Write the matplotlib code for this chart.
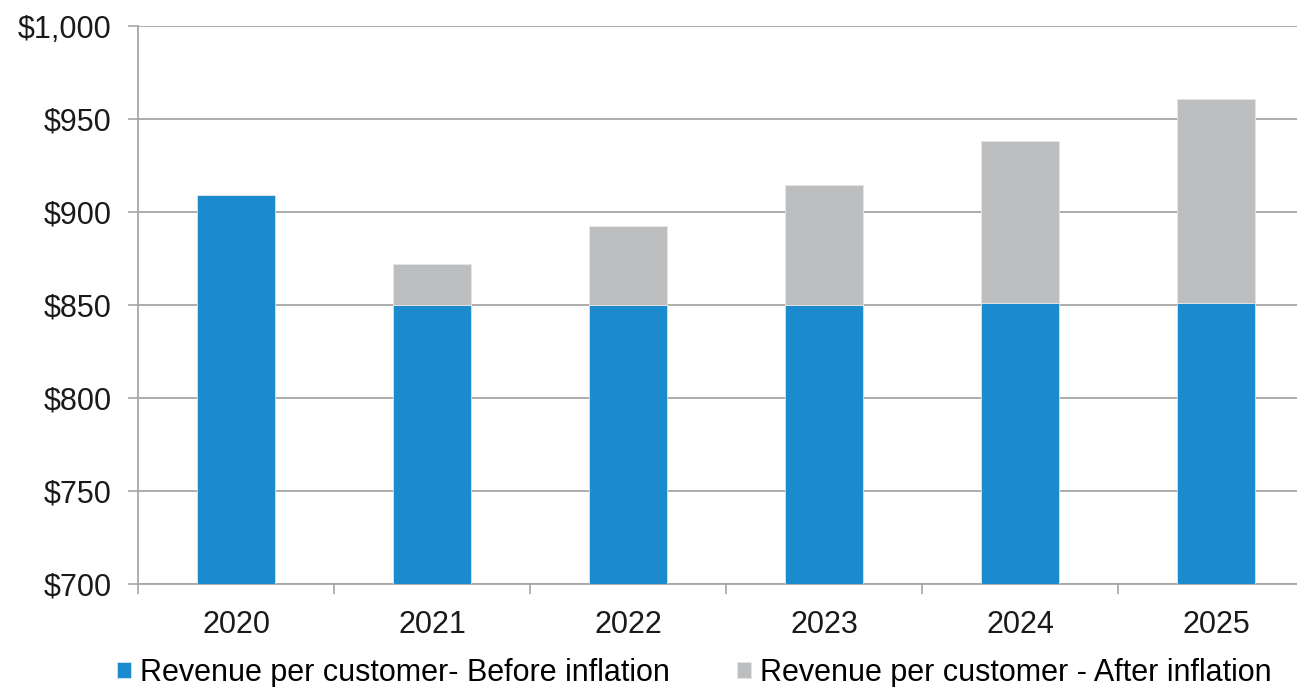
import numpy as np
import matplotlib.pyplot as plt
from matplotlib.ticker import FuncFormatter

plt.rcParams['font.family'] = ['Liberation Sans', 'DejaVu Sans']

years = ['2020', '2021', '2022', '2023', '2024', '2025']
before = [909, 850, 850, 850, 851, 851]        # before inflation
after_total = [909, 872, 892.5, 914.5, 938, 961]  # total after inflation
label_before = 'Revenue per customer- Before inflation'
label_after = 'Revenue per customer - After inflation'

blue = '#1b8bcd'
grey = '#bdbec0'
axcol = '#a6a6a6'
fs = 22

ind = np.arange(len(years))
width = 0.4
extra = [a - b for a, b in zip(after_total, before)]

fig = plt.figure(figsize=(12.97, 6.87), dpi=100)
ax = fig.add_axes([138/1297, 103/687, 1176/1297, 558/687])

rects1 = ax.bar(ind, before, width, color=blue, edgecolor='#cfe6f4',
                linewidth=0.6, zorder=3, label=label_before)
rects2 = ax.bar(ind, extra, width, bottom=before, color=grey,
                edgecolor='#e6e6e6', linewidth=0.6, zorder=3, label=label_after)

ax.set_ylim(700, 1000)
ax.set_xlim(-0.5, len(years) - 0.5)
ax.set_yticks(np.arange(700, 1001, 50))
ax.yaxis.set_major_formatter(FuncFormatter(lambda v, p: '${:,.0f}'.format(v)))
ax.grid(axis='y', color=axcol, linewidth=1.3, zorder=0)
ax.set_axisbelow(True)

ax.set_xticks(ind)
ax.set_xticklabels(years)
ax.set_xticks(np.arange(-0.5, len(years)), minor=True)
ax.tick_params(axis='x', which='major', length=0, pad=19, labelsize=fs,
               labelcolor='#1a1a1a')
ax.tick_params(axis='x', which='minor', length=7, width=1.2, color=axcol,
               direction='out')
ax.tick_params(axis='y', length=7, width=1.2, color=axcol, direction='out',
               pad=12, labelsize=fs, labelcolor='#1a1a1a')

for s in ['top', 'right']:
    ax.spines[s].set_visible(False)
for s in ['left', 'bottom']:
    ax.spines[s].set_color(axcol)
    ax.spines[s].set_linewidth(1.3)

fig.legend(handles=[rects1, rects2], labels=[label_before, label_after],
           loc='center left', bbox_to_anchor=(117/1297, 1 - 673/687),
           ncol=2, frameon=False, fontsize=fs, handlelength=0.45,
           handleheight=0.45, handletextpad=0.3, columnspacing=2.2,
           borderpad=0, borderaxespad=0)

fig.savefig('out.png', dpi=100)
